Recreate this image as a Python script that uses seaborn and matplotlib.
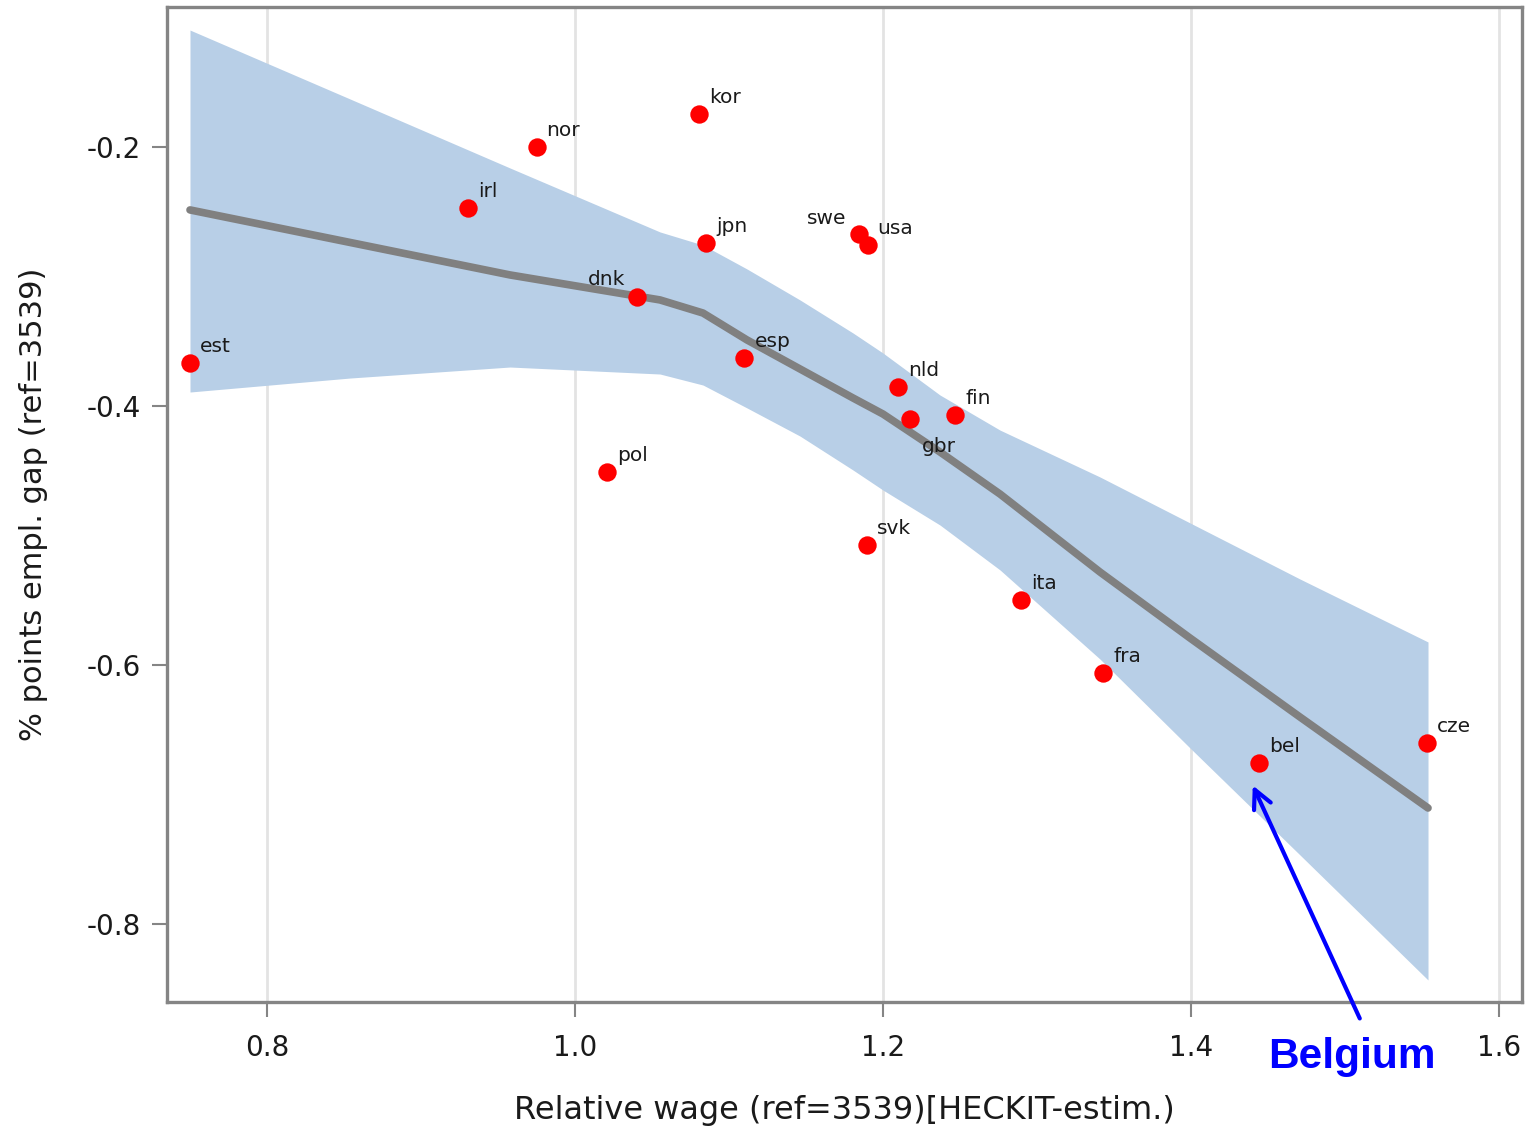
import matplotlib
matplotlib.use("Agg")
import matplotlib.pyplot as plt
import matplotlib.transforms as mtransforms
import seaborn as sns
import pandas as pd

# Country observations: relative wage vs. employment gap
countries = ["est", "irl", "nor", "kor", "jpn", "dnk", "esp", "pol", "swe",
             "usa", "nld", "gbr", "fin", "svk", "ita", "fra", "bel", "cze"]
rel_wage = [0.750, 0.9305, 0.975, 1.0805, 1.085, 1.040, 1.110, 1.021, 1.1844,
            1.190, 1.2097, 1.2175, 1.2468, 1.1896, 1.2896, 1.343, 1.444, 1.553]
empl_gap = [-0.367, -0.247, -0.200, -0.1745, -0.274, -0.316, -0.363, -0.451, -0.267,
            -0.2757, -0.385, -0.410, -0.407, -0.507, -0.550, -0.606, -0.676, -0.660]

# Smoothed fit with its confidence band
fit_x = [0.7500, 0.8539, 0.9578, 1.0552, 1.0831, 1.1117, 1.1461, 1.1805,
         1.2000, 1.2370, 1.2760, 1.3409, 1.3994, 1.4708, 1.5539]
fit_y = [-0.2486, -0.2737, -0.2988, -0.3181, -0.3282, -0.3490, -0.3714, -0.3938,
         -0.4062, -0.4355, -0.4680, -0.5282, -0.5792, -0.6402, -0.7104]
fit_hi = [-0.1097, -0.1629, -0.2162, -0.2656, -0.2757, -0.2942, -0.3181, -0.3436,
          -0.3591, -0.3915, -0.4186, -0.4548, -0.4903, -0.5336, -0.5822]
fit_lo = [-0.3892, -0.3784, -0.3699, -0.3753, -0.3838, -0.4015, -0.4232, -0.4494,
          -0.4649, -0.4919, -0.5266, -0.5954, -0.6641, -0.7467, -0.8432]

x_ticks = [0.8, 1.0, 1.2, 1.4, 1.6]
x_tick_labels = ["0.8", "1.0", "1.2", "1.4", "1.6"]
y_ticks = [-0.2, -0.4, -0.6, -0.8]
y_tick_labels = ["-0.2", "-0.4", "-0.6", "-0.8"]

highlight = "bel"
highlight_name = "Belgium"

# Label placement (pixel offsets from the marker); default is up and to the right
default_offset = (10, 11, "left")
label_offsets = {
    "swe": (-13, 10, "right"),
    "dnk": (-11, 12, "right"),
    "gbr": (12, -33, "left"),
}

sns.set_theme(style="white")
plt.rcParams["font.family"] = ["DejaVu Sans"]
plt.rcParams["axes.unicode_minus"] = False

fig = plt.figure(figsize=(15.27, 11.28), dpi=100)
ax = fig.add_axes([0.1094, 0.1117, 0.9967 - 0.1094, 0.9938 - 0.1117])

fit_df = pd.DataFrame({"x": fit_x, "y": fit_y, "lo": fit_lo, "hi": fit_hi})
pts = pd.DataFrame({"country": countries, "x": rel_wage, "y": empl_gap})

ax.fill_between(fit_df["x"], fit_df["lo"], fit_df["hi"], color="#b8cfe7",
                linewidth=0, zorder=1)
sns.lineplot(data=fit_df, x="x", y="y", ax=ax, color="#808080", linewidth=5.5,
             zorder=2, sort=True)
sns.scatterplot(data=pts, x="x", y="y", ax=ax, color="#ff0000", s=175,
                linewidth=0, zorder=3)

for c, xv, yv in zip(countries, rel_wage, empl_gap):
    dx, dy, ha = label_offsets.get(c, default_offset)
    ax.annotate(c, (xv, yv), xytext=(dx, dy), textcoords="offset pixels",
                ha=ha, va="baseline", fontsize=14.5, color="#1a1a1a", zorder=4)

# Callout arrow pointing at the highlighted country
hi_idx = countries.index(highlight)
hx, hy = rel_wage[hi_idx], empl_gap[hi_idx]
tip_tr = mtransforms.offset_copy(ax.transData, fig=fig, x=-6, y=-22, units="dots")
tail_tr = mtransforms.offset_copy(ax.transData, fig=fig, x=101, y=-255, units="dots")
ax.annotate("", xy=(hx, hy), xycoords=tip_tr, xytext=(hx, hy), textcoords=tail_tr,
            arrowprops=dict(arrowstyle="->,head_length=1.1,head_width=0.55",
                            color="#0000ff", lw=3, shrinkA=0, shrinkB=0),
            annotation_clip=False, zorder=5)
ax.annotate(highlight_name, (hx, hy), xytext=(93, -274), textcoords="offset pixels",
            ha="center", va="top", fontsize=30.5, fontweight="bold",
            color="#0000ff", family="Liberation Sans", annotation_clip=False)

ax.set_xlim(0.7351, 1.6149)
ax.set_ylim(-0.8602, -0.0919)
ax.set_xticks(x_ticks)
ax.set_xticklabels(x_tick_labels)
ax.set_yticks(y_ticks)
ax.set_yticklabels(y_tick_labels)

ax.grid(False)
for xv in x_ticks:
    ax.axvline(xv, color="#e3e3e3", linewidth=2, zorder=0)

for sp in ax.spines.values():
    sp.set_color("#858585")
    sp.set_linewidth(2.4)

ax.tick_params(axis="both", which="major", direction="out", length=11, width=1.5,
               color="#858585", labelsize=20, labelcolor="#1a1a1a", pad=8,
               bottom=True, left=True)
ax.tick_params(axis="x", pad=12)

ax.set_xlabel("Relative wage (ref=3539)[HECKIT-estim.)", fontsize=23,
              color="#1a1a1a", labelpad=24)
ax.set_ylabel("% points empl. gap (ref=3539)", fontsize=22, color="#1a1a1a",
              labelpad=28)

fig.savefig("out.png", dpi=100, facecolor="white")
